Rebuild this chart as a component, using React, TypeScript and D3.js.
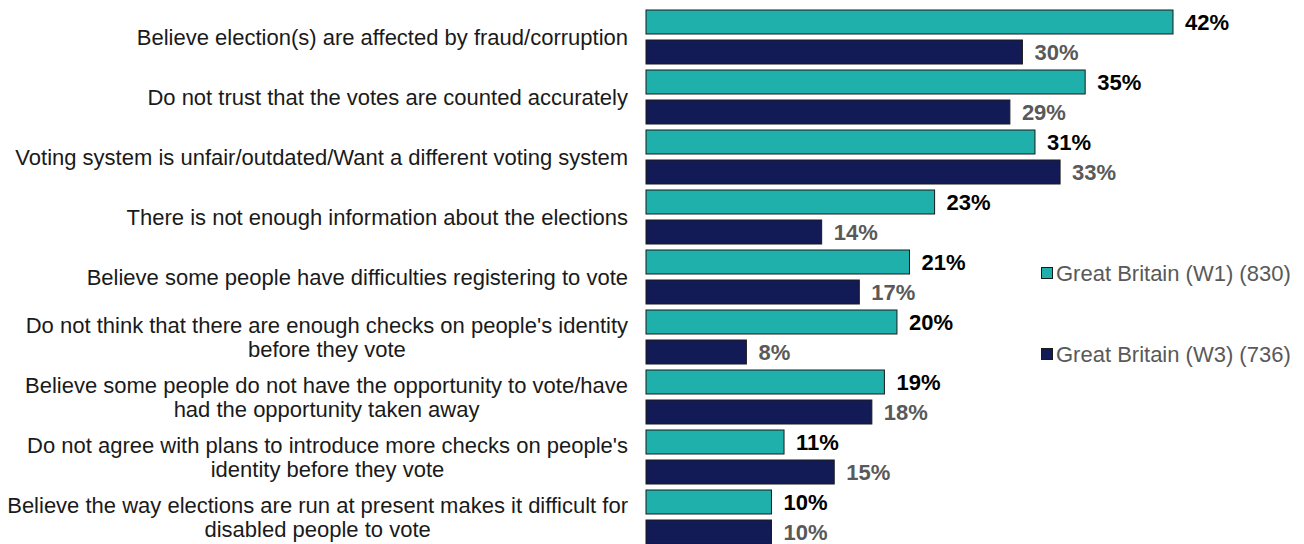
import React from "react";
import * as d3 from "d3";

const categories: string[][] = [
  ["Believe election(s) are affected by fraud/corruption"],
  ["Do not trust that the votes are counted accurately"],
  ["Voting system is unfair/outdated/Want a different voting system"],
  ["There is not enough information about the elections"],
  ["Believe some people have difficulties registering to vote"],
  ["Do not think that there are enough checks on people's identity", "before they vote"],
  ["Believe some people do not have the opportunity to vote/have", "had the opportunity taken away"],
  ["Do not agree with plans to introduce more checks on people's", "identity before they vote"],
  ["Believe the way elections are run at present makes it difficult for", "disabled people to vote"],
];
const seriesNames = ["Great Britain (W1) (830)", "Great Britain (W3) (736)"];
const w1Values = [42, 35, 31, 23, 21, 20, 19, 11, 10];
const w3Values = [30, 29, 33, 14, 17, 8, 18, 15, 10];

const W = 1304;
const H = 544;
const FONT = "'Liberation Sans', Arial, sans-serif";
const colors = ["#1FB0AC", "#131B57"];
const labelColors = ["#000000", "#595959"];

function measure(text: string, font: string): number {
  const c = document.createElement("canvas");
  const ctx = c.getContext("2d")!;
  ctx.font = font;
  return ctx.measureText(text).width;
}

export default function App() {
  const keys = categories.map((_, i) => String(i));
  const y0 = d3.scaleBand<string>().domain(keys).range([7, 7 + 60 * keys.length]).paddingInner(0);
  const y1 = d3
    .scaleBand<string>()
    .domain(["0", "1"])
    .range([0, y0.bandwidth()])
    .paddingInner(0.2)
    .paddingOuter(0.1);
  const x = d3.scaleLinear().domain([0, 42]).range([646, 1173]);
  const values = [w1Values, w3Values];
  const labelRight = 628;
  const catFont = `22px ${FONT}`;

  return (
    <svg width={W} height={H} style={{ position: "absolute", left: 0, top: 0 }} xmlns="http://www.w3.org/2000/svg">
      <rect width={W} height={H} fill="#ffffff" />
      {categories.map((lines, i) => {
        const cy = (y0(String(i)) as number) + y0.bandwidth() / 2;
        const maxW = Math.max(...lines.map((l) => measure(l, catFont)));
        const cx = labelRight - maxW / 2;
        const lh = 24;
        const startY = cy - ((lines.length - 1) * lh) / 2;
        return (
          <text key={"c" + i} fontFamily={FONT} fontSize={22} fill="#1a1a1a" textAnchor="middle">
            {lines.map((l, j) => (
              <tspan key={j} x={cx} y={startY + j * lh} dy="0.35em">
                {l}
              </tspan>
            ))}
          </text>
        );
      })}
      {values.map((vals, s) =>
        vals.map((v, i) => {
          const top = (y0(String(i)) as number) + (y1(String(s)) as number);
          return (
            <g key={`b${s}-${i}`}>
              <rect
                x={x(0)}
                y={top}
                width={x(v) - x(0)}
                height={y1.bandwidth()}
                fill={colors[s]}
                stroke="#1a1a1a"
                strokeWidth={1}
              />
              <text
                x={x(v) + 12}
                y={top + y1.bandwidth() / 2}
                dy="0.36em"
                fontFamily={FONT}
                fontSize={22}
                fontWeight="bold"
                fill={labelColors[s]}
              >
                {v}%
              </text>
            </g>
          );
        })
      )}
      {seriesNames.map((name, s) => {
        const ly = [273, 354][s];
        return (
          <g key={"l" + s}>
            <rect x={1041.5} y={ly - 5.5} width={11} height={11} fill={colors[s]} stroke="#1a1a1a" strokeWidth={1} />
            <text x={1056} y={ly} dy="0.35em" fontFamily={FONT} fontSize={22} fill="#595959">
              {name}
            </text>
          </g>
        );
      })}
    </svg>
  );
}
